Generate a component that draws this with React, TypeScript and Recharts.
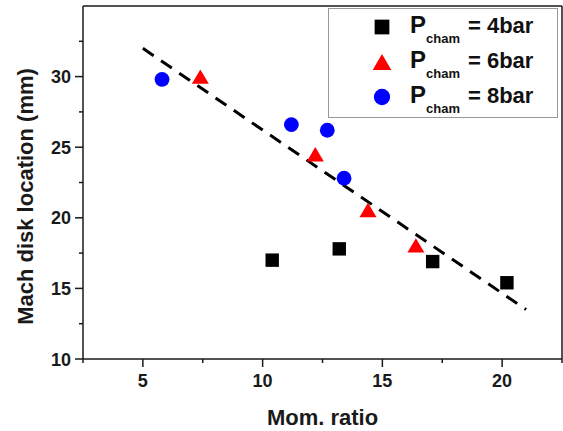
import { ScatterChart, Scatter, XAxis, YAxis, ReferenceLine, Label } from 'recharts';

const bar4 = [
  { x: 10.4, y: 17.0 },
  { x: 13.2, y: 17.8 },
  { x: 17.1, y: 16.9 },
  { x: 20.2, y: 15.4 },
];
const bar6 = [
  { x: 7.4, y: 30.0 },
  { x: 12.2, y: 24.5 },
  { x: 14.4, y: 20.55 },
  { x: 16.4, y: 18.05 },
];
const bar8 = [
  { x: 5.8, y: 29.8 },
  { x: 11.2, y: 26.6 },
  { x: 12.7, y: 26.2 },
  { x: 13.4, y: 22.8 },
];
const fitLine = [
  { x: 5, y: 32.0 },
  { x: 21, y: 13.5 },
];
const xTicks = [2.5, 5, 7.5, 10, 12.5, 15, 17.5, 20, 22.5];
const yTicks = [10, 12.5, 15, 17.5, 20, 22.5, 25, 27.5, 30, 32.5];
const legendItems = [
  { label: '= 4bar', kind: 'square', color: '#000' },
  { label: '= 6bar', kind: 'triangle', color: '#ff0000' },
  { label: '= 8bar', kind: 'circle', color: '#0000ff' },
];

const font = '"Liberation Sans", Arial, sans-serif';
const ink = '#1a1a1a';

const XTick = ({ x, y, payload }: any) => {
  const major = payload.value % 5 === 0;
  return (
    <g>
      <line x1={x} x2={x} y1={y} y2={y + (major ? 8 : 4)} stroke={ink} strokeWidth={1.5} />
      {major && (
        <text x={x} y={y + 28} textAnchor="middle" fontSize={18} fontWeight="bold" fontFamily={font} fill={ink}>
          {payload.value}
        </text>
      )}
    </g>
  );
};

const YTick = ({ x, y, payload }: any) => {
  const major = payload.value % 5 === 0;
  return (
    <g>
      <line x1={x} x2={x - (major ? 8 : 4)} y1={y} y2={y} stroke={ink} strokeWidth={1.5} />
      {major && (
        <text x={x - 12} y={y + 6.5} textAnchor="end" fontSize={18} fontWeight="bold" fontFamily={font} fill={ink}>
          {payload.value}
        </text>
      )}
    </g>
  );
};

const Marker = ({ kind, cx, cy, color, s = 1 }: any) => {
  if (kind === 'square') {
    const h = 6.7 * s;
    return <rect x={cx - h} y={cy - h} width={h * 2} height={h * 2} fill={color} />;
  }
  if (kind === 'triangle') {
    const w = 8.5 * s;
    const h = 7.2 * s;
    return <polygon points={`${cx},${cy - h} ${cx + w},${cy + h} ${cx - w},${cy + h}`} fill={color} />;
  }
  return <circle cx={cx} cy={cy} r={7.4 * s} fill={color} />;
};

const YTitle = ({ viewBox }: any) => (
  <text
    transform={`translate(33, ${viewBox.y + viewBox.height / 2 + 14}) rotate(-90)`}
    textAnchor="middle"
    fontSize={22}
    fontWeight="bold"
    fontFamily={font}
    fill={ink}
  >
    Mach disk location (mm)
  </text>
);

const App = () => {
  return (
    <div style={{ position: 'absolute', left: 0, top: 0, width: 563, height: 431, background: '#fff' }}>
      <ScatterChart width={563} height={431} margin={{ top: 6, right: 1, bottom: 0, left: 0 }}>
        <XAxis
          dataKey="x"
          type="number"
          domain={[2.5, 22.5]}
          ticks={xTicks}
          interval={0}
          height={72}
          tickSize={0}
          tickMargin={0}
          tickLine={false}
          tick={<XTick />}
          axisLine={{ stroke: ink, strokeWidth: 1.5 }}
          allowDataOverflow
        >
          <Label
            value="Mom. ratio"
            position="insideBottom"
            offset={6}
            style={{ fontSize: 22, fontWeight: 'bold', fontFamily: font, fill: ink }}
          />
        </XAxis>
        <YAxis
          dataKey="y"
          type="number"
          domain={[10, 35]}
          ticks={yTicks}
          interval={0}
          width={83}
          tickSize={0}
          tickMargin={0}
          tickLine={false}
          tick={<YTick />}
          axisLine={{ stroke: ink, strokeWidth: 1.5 }}
          allowDataOverflow
        >
          <Label content={<YTitle />} />
        </YAxis>
        <ReferenceLine y={35} stroke={ink} strokeWidth={1.5} />
        <ReferenceLine x={22.5} stroke={ink} strokeWidth={1.5} />
        <Scatter
          data={fitLine}
          line={{ stroke: '#000', strokeWidth: 3, strokeDasharray: '13 9' }}
          shape={() => <g />}
          isAnimationActive={false}
        />
        <Scatter data={bar4} shape={(p: any) => <Marker kind="square" cx={p.cx} cy={p.cy} color="#000" />} isAnimationActive={false} />
        <Scatter data={bar6} shape={(p: any) => <Marker kind="triangle" cx={p.cx} cy={p.cy} color="#ff0000" />} isAnimationActive={false} />
        <Scatter data={bar8} shape={(p: any) => <Marker kind="circle" cx={p.cx} cy={p.cy} color="#0000ff" />} isAnimationActive={false} />
      </ScatterChart>
      <div
        style={{
          position: 'absolute',
          left: 328,
          top: 8,
          width: 230,
          height: 110,
          border: '1.5px solid #999',
          boxSizing: 'border-box',
          background: '#fff',
        }}
      >
        <svg width={228} height={108} style={{ position: 'absolute', left: 0, top: 0 }}>
          {legendItems.map((item, i) => (
            <g key={item.label}>
              <Marker kind={item.kind} cx={53} cy={18 + 35 * i} color={item.color} s={1.1} />
              <text x={81} y={24 + 35 * i} fontFamily={font} fontWeight="bold" fill="#111" fontSize={24}>
                P
                <tspan fontSize={13} dy={9.5}>cham</tspan>
                <tspan fontSize={22} dy={-9.5} dx={8}>{item.label}</tspan>
              </text>
            </g>
          ))}
        </svg>
      </div>
    </div>
  );
};

export default App;
